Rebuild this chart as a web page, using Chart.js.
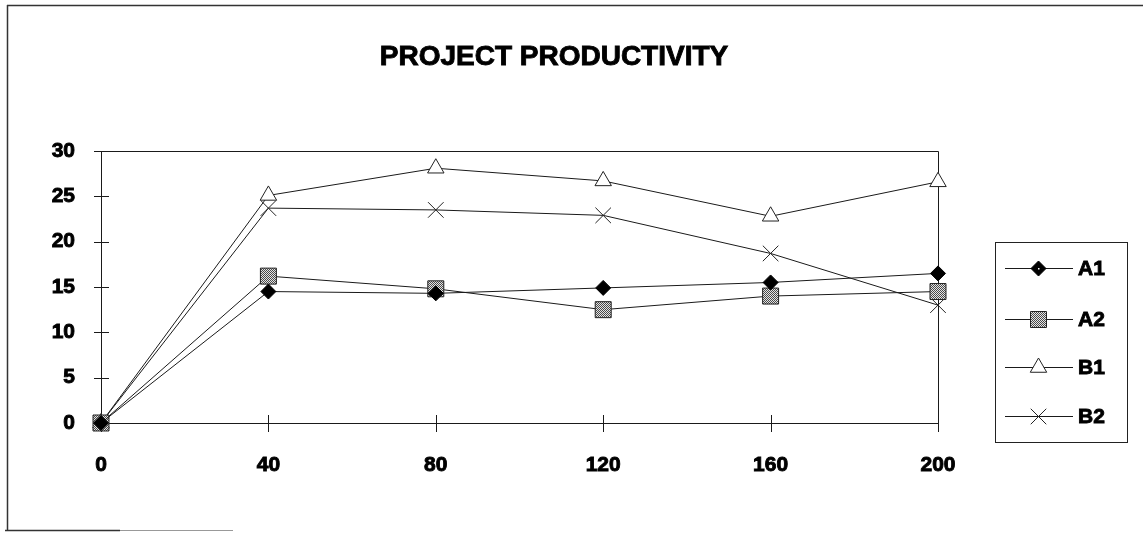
<!DOCTYPE html>
<html>
<head>
<meta charset="utf-8">
<script src="https://cdn.jsdelivr.net/npm/chart.js@4.4.1/dist/chart.umd.min.js"></script>
<style>
html,body{margin:0;padding:0;background:#fff;}
#wrap{position:relative;width:1143px;height:533px;}
</style>
</head>
<body>
<div id="wrap"><canvas id="c" width="1143" height="533"></canvas></div>
<script>
const titleText = "PROJECT PRODUCTIVITY";
const xValues = [0, 40, 80, 120, 160, 200];
const xTicks = [0, 40, 80, 120, 160, 200];
const yTicks = [0, 5, 10, 15, 20, 25, 30];
const seriesNames = ["A1", "A2", "B1", "B2"];
const a1 = [0, 14.5, 14.3, 14.9, 15.5, 16.5];
const a2 = [0, 16.2, 14.8, 12.5, 14.0, 14.5];
const b1 = [0, 25.1, 28.1, 26.7, 22.8, 26.6];
const b2 = [0, 23.7, 23.5, 22.9, 18.7, 13.0];

const FONT = "'Liberation Sans', Arial, sans-serif";

function makePattern() {
  const pc = document.createElement('canvas');
  pc.width = 2; pc.height = 2;
  const p = pc.getContext('2d');
  p.fillStyle = '#e4e4e4'; p.fillRect(0,0,2,2);
  p.fillStyle = '#4a4a4a'; p.fillRect(0,0,1,1); p.fillRect(1,1,1,1);
  return document.getElementById('c').getContext('2d').createPattern(pc, 'repeat');
}
const dither = makePattern();

const styles = [
  {pointStyle:'rectRot', radius:7.5, bg:'#000', border:'#000'},
  {pointStyle:'rect', radius:11.3, bg:dither, border:'#222'},
  {pointStyle:'triangle', radius:9.5, bg:'#fff', border:'#222'},
  {pointStyle:'crossRot', radius:11, bg:'#fff', border:'#222'}
];
const seriesData = [a1, a2, b1, b2];

const datasets = seriesNames.map((n, i) => ({
  label: n,
  data: xValues.map((x, j) => ({x: x, y: seriesData[i][j]})),
  borderColor: '#1a1a1a',
  borderWidth: 1,
  pointStyle: styles[i].pointStyle,
  pointRadius: styles[i].radius,
  pointHoverRadius: styles[i].radius,
  pointBackgroundColor: styles[i].bg,
  pointBorderColor: styles[i].border,
  pointBorderWidth: 1,
  tension: 0,
  clip: false,
  fill: false
}));

function drawMarker(ctx, style, x, y) {
  ctx.save();
  ctx.lineWidth = 1;
  ctx.strokeStyle = style.border;
  ctx.fillStyle = style.bg;
  const r = style.radius;
  ctx.beginPath();
  if (style.pointStyle === 'rectRot') {
    ctx.moveTo(x, y - r); ctx.lineTo(x + r, y); ctx.lineTo(x, y + r); ctx.lineTo(x - r, y); ctx.closePath();
    ctx.fill(); ctx.stroke();
    ctx.fillStyle = '#fff'; ctx.fillRect(x - 0.5, y - 0.5, 1.5, 1.5);
  } else if (style.pointStyle === 'rect') {
    const s = r * Math.SQRT1_2;
    ctx.rect(x - s, y - s, 2 * s, 2 * s);
    ctx.fill(); ctx.stroke();
  } else if (style.pointStyle === 'triangle') {
    const h = Math.sqrt(3) / 2 * r;
    ctx.moveTo(x, y - r); ctx.lineTo(x + h, y + r / 2); ctx.lineTo(x - h, y + r / 2); ctx.closePath();
    ctx.fill(); ctx.stroke();
  } else {
    const s = r * Math.SQRT1_2;
    ctx.moveTo(x - s, y - s); ctx.lineTo(x + s, y + s);
    ctx.moveTo(x + s, y - s); ctx.lineTo(x - s, y + s);
    ctx.stroke();
  }
  ctx.restore();
}

function boldText(ctx, t, x, y) {
  ctx.fillText(t, x, y);
  ctx.lineWidth = 0.9;
  ctx.strokeStyle = '#000';
  ctx.strokeText(t, x, y);
}

const decor = {
  id: 'decor',
  beforeDatasetsDraw(chart) {
    const ctx = chart.ctx;
    const a = chart.chartArea;
    const xs = chart.scales.x, ys = chart.scales.y;
    ctx.save();
    ctx.strokeStyle = '#1a1a1a';
    ctx.lineWidth = 1;
    ctx.beginPath();
    ctx.moveTo(a.left + 0.5, a.top + 0.5); ctx.lineTo(a.right + 0.5, a.top + 0.5);
    ctx.lineTo(a.right + 0.5, a.bottom + 0.5);
    ctx.moveTo(a.left + 0.5, a.top + 0.5); ctx.lineTo(a.left + 0.5, a.bottom + 0.5);
    ctx.lineTo(a.right + 0.5, a.bottom + 0.5);
    ctx.stroke();
    ctx.beginPath();
    yTicks.forEach(v => {
      const y = Math.round(ys.getPixelForValue(v)) + 0.5;
      ctx.moveTo(a.left - 7, y); ctx.lineTo(a.left + 8, y);
    });
    xTicks.forEach(v => {
      const x = Math.round(xs.getPixelForValue(v)) + 0.5;
      ctx.moveTo(x, a.bottom - 8); ctx.lineTo(x, a.bottom + 9);
    });
    ctx.stroke();
    ctx.restore();
  },
  afterDraw(chart) {
    const ctx = chart.ctx;
    ctx.save();
    ctx.strokeStyle = '#333';
    ctx.lineWidth = 1.5;
    ctx.beginPath();
    ctx.moveTo(7, 5.5); ctx.lineTo(1143, 5.5);
    ctx.moveTo(7.5, 5); ctx.lineTo(7.5, 531);
    ctx.moveTo(5, 530.5); ctx.lineTo(120, 530.5);
    ctx.stroke();
    ctx.strokeStyle = '#999';
    ctx.lineWidth = 1;
    ctx.beginPath();
    ctx.moveTo(120, 530.5); ctx.lineTo(233, 530.5);
    ctx.stroke();
    ctx.fillStyle = '#000';
    ctx.font = 'bold 28px ' + FONT;
    ctx.textAlign = 'center';
    ctx.textBaseline = 'middle';
    boldText(ctx, titleText, 554, 57);
    ctx.strokeStyle = '#222';
    ctx.lineWidth = 1;
    ctx.strokeRect(995.5, 242.5, 132, 200);
    const ly = [268, 319, 367, 416];
    seriesNames.forEach((n, i) => {
      ctx.strokeStyle = '#1a1a1a';
      ctx.lineWidth = 1;
      ctx.beginPath();
      ctx.moveTo(1005, ly[i] + 0.5); ctx.lineTo(1073, ly[i] + 0.5);
      ctx.stroke();
      drawMarker(ctx, styles[i], 1038.5, ly[i] + 0.5);
      ctx.fillStyle = '#000';
      ctx.font = 'bold 21px ' + FONT;
      ctx.textAlign = 'left';
      ctx.textBaseline = 'middle';
      boldText(ctx, n, 1078, ly[i] + 1);
    });
    ctx.restore();
  }
};

new Chart(document.getElementById('c'), {
  type: 'line',
  data: {datasets: datasets},
  plugins: [decor],
  options: {
    responsive: false,
    animation: false,
    events: [],
    layout: {padding: {left: 0, right: 205, top: 151, bottom: 0}},
    plugins: {legend: {display: false}, title: {display: false}, tooltip: {enabled: false}},
    scales: {
      x: {
        type: 'linear', min: 0, max: 200,
        afterFit: s => { s.height = 110; },
        afterBuildTicks: s => { s.ticks = xTicks.map(v => ({value: v})); },
        grid: {display: false, drawTicks: false},
        border: {display: false},
        ticks: {color: '#000', textStrokeColor: '#000', textStrokeWidth: 0.9, font: {family: FONT, size: 21, weight: 'bold'}, padding: 30, maxRotation: 0}
      },
      y: {
        min: 0, max: 30,
        afterFit: s => { s.width = 101; },
        afterBuildTicks: s => { s.ticks = yTicks.map(v => ({value: v})); },
        grid: {display: false, drawTicks: false},
        border: {display: false},
        ticks: {color: '#000', textStrokeColor: '#000', textStrokeWidth: 0.9, font: {family: FONT, size: 21, weight: 'bold'}, padding: 26}
      }
    }
  }
});
</script>
</body>
</html>
